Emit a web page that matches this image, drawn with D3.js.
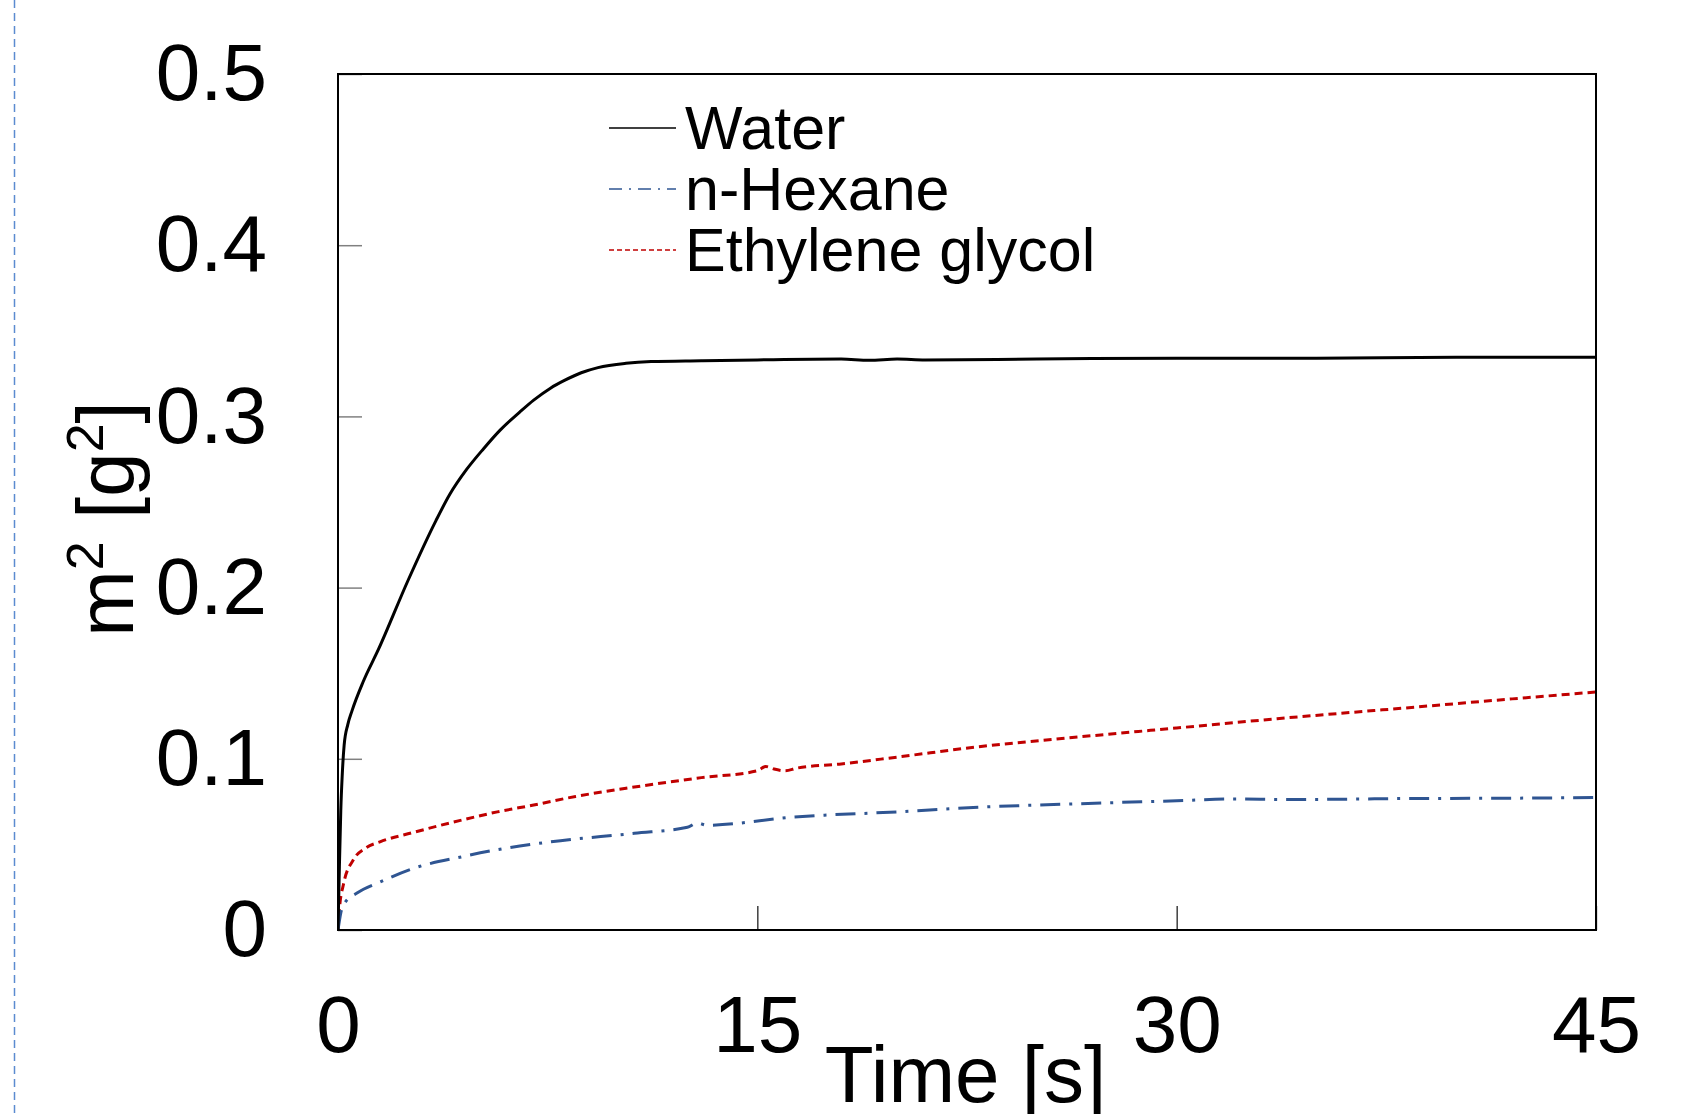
<!DOCTYPE html>
<html lang="en">

<head>
    <meta charset="utf-8">
    <title>m2 vs time</title>
    <script src="https://d3js.org/d3.v7.min.js" charset="utf-8"></script>
    <style type="text/css">
        body { margin: 0; background: #fff; }
        svg text { font-family: 'Liberation Sans', Arial, sans-serif; fill: #000; }
    </style>
</head>

<body>
<svg id="svg"></svg>

<script type="text/javascript">

    // values, [time s, m^2 g^2]
    var water = [[0, 0], [0.04, 0.03], [0.1, 0.07], [0.15, 0.09], [0.22, 0.108], [0.35, 0.12], [0.5, 0.128],
        [0.9, 0.145], [1.45, 0.164], [2.5, 0.204], [3.5, 0.239], [4, 0.2545], [4.6, 0.269], [5.2, 0.281],
        [5.8, 0.292], [6.5, 0.3025], [7, 0.3095], [7.6, 0.3165], [8.1, 0.321], [8.7, 0.3255], [9.3, 0.3285],
        [10.3, 0.331], [11.2, 0.332], [13, 0.3325], [15, 0.333], [18, 0.3335], [19, 0.3328], [20, 0.3335],
        [21, 0.333], [25, 0.3335], [30, 0.334], [35, 0.334], [40, 0.3345], [45, 0.3345]];

    var hexane = [[0, 0], [0.1, 0.01], [0.25, 0.016], [0.68, 0.0216], [1.5, 0.028], [2.7, 0.036], [4.5, 0.043],
        [5.9, 0.0475], [7.6, 0.0515], [10.6, 0.0565], [12.5, 0.06], [12.85, 0.0625], [13.2, 0.0612],
        [16.3, 0.066], [20, 0.069], [22.9, 0.0717], [26, 0.0735], [30, 0.0755], [32, 0.0765], [34, 0.0762],
        [38.4, 0.0768], [42, 0.077], [45, 0.0774]];

    var glycol = [[0, 0], [0.05, 0.012], [0.2, 0.027], [0.55, 0.041], [1.0, 0.048], [1.5, 0.0515], [2.7, 0.057],
        [4.5, 0.0645], [5.7, 0.069], [7, 0.073], [8.5, 0.078], [10.6, 0.0835], [13, 0.089], [15, 0.093],
        [15.3, 0.0955], [15.6, 0.094], [16, 0.093], [16.4, 0.0945], [18, 0.097], [20, 0.101], [22.9, 0.107],
        [26, 0.112], [30, 0.118], [34, 0.124], [38.4, 0.13], [42, 0.135], [45, 0.139]];

    var seriesNames = ['Water', 'n-Hexane', 'Ethylene glycol'];
    var xTicks = [0, 15, 30, 45];
    var yTicks = [0, 0.1, 0.2, 0.3, 0.4, 0.5];

    function draw() {
        var width = 1704, height = 1114;
        var left = 338, right = 1596, top = 74, bottom = 930;

        var svg = d3.select('svg')
                .attr('width', width)
                .attr('height', height);

        // stray dashed border at the far left of the original
        svg.append('line')
                .attr('x1', 14.5).attr('x2', 14.5)
                .attr('y1', 0).attr('y2', height)
                .style('stroke', '#5b8bd0')
                .style('stroke-width', 1.5)
                .style('stroke-dasharray', '8,5');

        var x = d3.scaleLinear().domain([0, 45]).range([left, right]);
        var y = d3.scaleLinear().domain([0, 0.5]).range([bottom, top]);

        var yAxis = svg.append('g')
                .attr('transform', 'translate(' + left + ',0)')
                .call(d3.axisLeft(y).tickValues(yTicks).tickSize(-24).tickPadding(71)
                        .tickFormat(d3.format('.1~f')));
        yAxis.select('.domain').remove();
        yAxis.selectAll('line').style('stroke', '#808080').style('stroke-width', 1.5);
        yAxis.selectAll('text').style('font-size', '80px');

        var xAxis = svg.append('g')
                .attr('transform', 'translate(0,' + bottom + ')')
                .call(d3.axisBottom(x).tickValues(xTicks).tickSize(-24).tickPadding(65));
        xAxis.select('.domain').remove();
        xAxis.selectAll('line').style('stroke', '#222').style('stroke-width', 1.3);
        xAxis.selectAll('text').style('font-size', '80px');

        svg.append('clipPath').attr('id', 'plot-clip')
                .append('rect')
                .attr('x', left).attr('y', top)
                .attr('width', right - left).attr('height', bottom - top);

        var line = d3.line()
                .x(function (d) { return x(d[0]); })
                .y(function (d) { return y(d[1]); })
                .curve(d3.curveMonotoneX);

        var series = [
            {name: seriesNames[0], values: water, color: '#000000', width: 3, dash: null, legendDash: null},
            {name: seriesNames[1], values: hexane, color: '#2f5592', width: 3, dash: '20,9,3,9', legendDash: '13,7,2,7'},
            {name: seriesNames[2], values: glycol, color: '#c00000', width: 3, dash: '8,5', legendDash: '5,3'}
        ];

        var plot = svg.append('g').attr('clip-path', 'url(#plot-clip)');

        plot.selectAll('path.series')
                .data(series.slice().reverse())
                .enter().append('path')
                .attr('class', 'series')
                .attr('d', function (d) { return line(d.values); })
                .style('fill', 'none')
                .style('stroke', function (d) { return d.color; })
                .style('stroke-width', function (d) { return d.width; })
                .style('stroke-dasharray', function (d) { return d.dash; });

        svg.append('rect')
                .attr('x', left).attr('y', top)
                .attr('width', right - left).attr('height', bottom - top)
                .style('fill', 'none')
                .style('stroke', '#000')
                .style('stroke-width', 2);

        // legend
        var legend = svg.append('g').attr('transform', 'translate(609,128)');
        var rows = legend.selectAll('g')
                .data(series)
                .enter().append('g')
                .attr('transform', function (d, i) { return 'translate(0,' + (i * 61) + ')'; });

        rows.append('line')
                .attr('x1', 0).attr('x2', 67)
                .style('stroke', function (d) { return d.color; })
                .style('stroke-width', 1.6)
                .style('stroke-dasharray', function (d) { return d.legendDash; });

        rows.append('text')
                .attr('x', 76)
                .attr('y', 21)
                .style('font-size', '61px')
                .text(function (d) { return d.name; });

        // axis titles
        svg.append('text')
                .attr('x', (828 + 1103) / 2)
                .attr('y', 1102)
                .attr('text-anchor', 'middle')
                .style('font-size', '80px')
                .text('Time [s]');

        var yTitle = svg.append('text')
                .attr('transform', 'translate(133,519) rotate(-90)')
                .attr('text-anchor', 'middle')
                .style('font-size', '80px');
        yTitle.append('tspan').text('m');
        yTitle.append('tspan').attr('dy', -30).style('font-size', '52px').text('2');
        yTitle.append('tspan').attr('dy', 30).text(' [g');
        yTitle.append('tspan').attr('dy', -30).style('font-size', '52px').text('2');
        yTitle.append('tspan').attr('dy', 30).text(']');
    }

    draw();
</script>
</body>

</html>
